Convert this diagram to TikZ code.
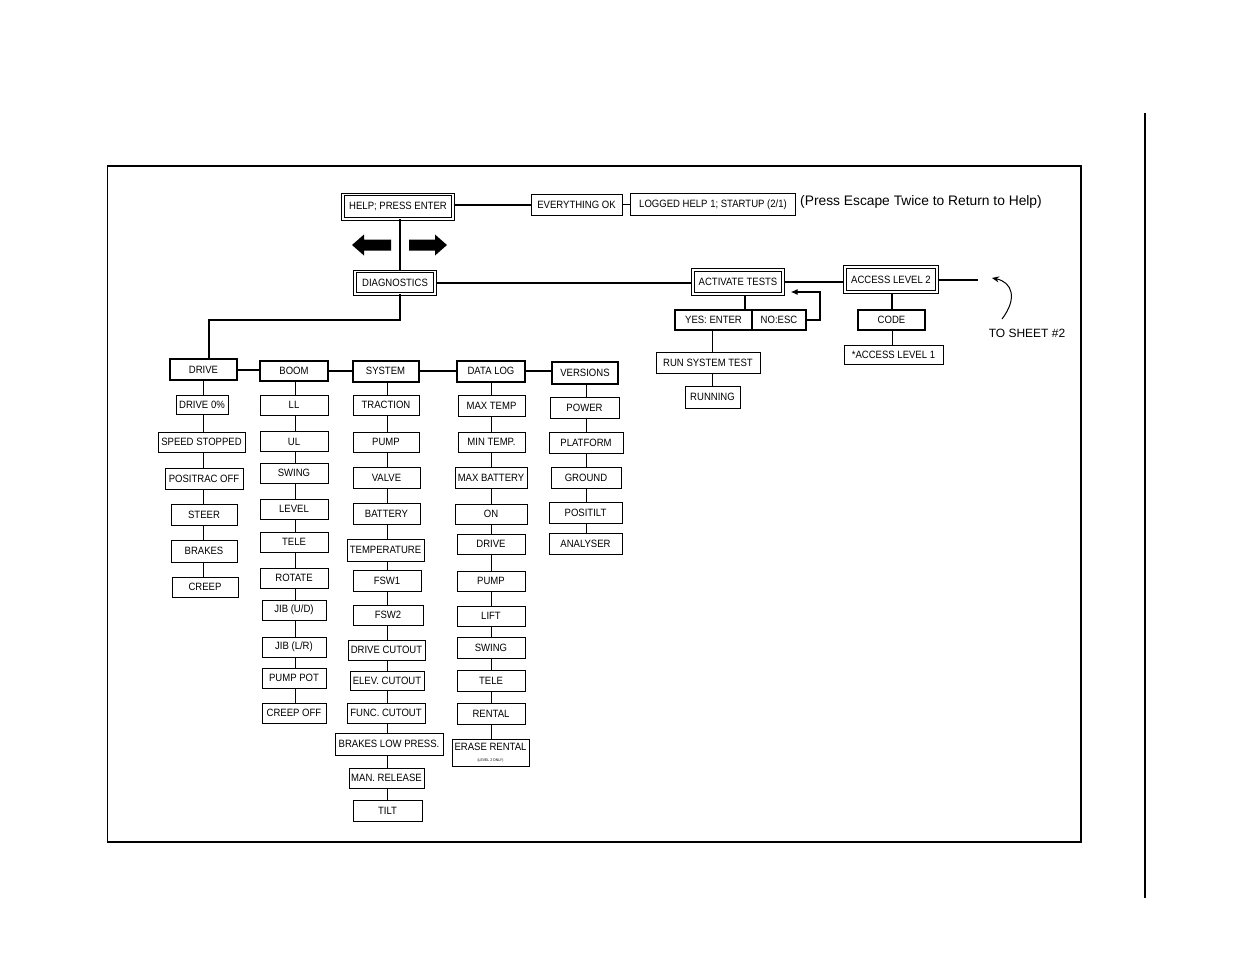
\documentclass[tikz,border=0pt]{standalone}
\usepackage{fontspec}
\setmainfont{Liberation Sans}
\newfontfamily\boxfam{Liberation Sans}[FakeStretch=0.9]
\usetikzlibrary{arrows.meta}
\newcommand\bxfont{\boxfam\fontsize{10.6}{12}\selectfont}
\begin{document}
\begin{tikzpicture}[x=1pt,y=-1pt,
  leaf/.style={draw, line width=0.8pt, inner sep=0pt, font=\bxfont, fill=white},
  cat/.style={leaf, line width=2pt},
  dbl/.style={draw, double, double distance=1.6pt, line width=1pt, inner sep=0pt, font=\bxfont},
  conn/.style={line width=0.8pt},
  mainln/.style={line width=2pt},
  fat/.style={fill=black, draw=none}]
\useasboundingbox (0,0) rectangle (1235,954);
% frame
\draw[line width=1.5pt] (107.5,166) rectangle (1081,842);
\draw[line width=1.5pt] (1145,113) -- (1145,898);

% top row
\node[dbl, minimum width=110.4, minimum height=24.4] (help) at (398,206.5) {HELP; PRESS ENTER};
\node[leaf, minimum width=91, minimum height=21] (ok) at (576.5,204.5) {EVERYTHING OK};
\node[leaf, line width=1.2pt, minimum width=165, minimum height=22] (logged) at (713,204.5) {LOGGED HELP 1; STARTUP (2/1)};
\node[anchor=west, inner sep=0pt, font=\fontsize{13.8}{16}\selectfont] (note) at (800,202) {(Press Escape Twice to Return to Help)};
\draw[mainln] (help.east |- ok) -- (ok.west);
\draw[conn] (ok.east) -- (logged.west);

\node[dbl, minimum width=80.4, minimum height=22.4] (diag) at (395,282.5) {DIAGNOSTICS};
\coordinate (k1) at (400,320);
\draw[mainln] (help.south -| k1) -- (diag.north -| k1);

% fat arrows
\fill[fat] (352,245) -- (364,234.5) -- (364,239.5) -- (391,239.5) -- (391,250.5) -- (364,250.5) -- (364,255.5) -- cycle;
\fill[fat] (447,245) -- (435,234.5) -- (435,239.5) -- (409,239.5) -- (409,250.5) -- (435,250.5) -- (435,255.5) -- cycle;

\node[dbl, minimum width=90.4, minimum height=24.4] (activate) at (738,282) {ACTIVATE TESTS};
\node[dbl, minimum width=92.4, minimum height=25.4] (access) at (891,279.5) {ACCESS LEVEL 2};
\draw[mainln] (diag.east) -- (diag.east -| activate.west);
\draw[mainln] (activate.east) -- (activate.east -| access.west);
\coordinate (k5) at (978,279.5);
\draw[mainln] (access.east) -- (k5);

\node[cat, minimum width=77, minimum height=20] (yes) at (713.5,320) {YES: ENTER};
\node[cat, minimum width=54, minimum height=20] (no) at (779,320) {NO:ESC};
\coordinate (k2) at (745,0);
\draw[mainln] (activate.south -| k2) -- (yes.north -| k2);
\coordinate (k3) at (820,292);
\draw[line width=1.1pt, -{Latex[length=7pt,width=6pt]}] (no.east) -| (k3) -- ([xshift=7pt]activate.east |- k3);

\node[leaf, minimum width=104, minimum height=21] (run) at (708,362.5) {RUN SYSTEM TEST};
\node[leaf, minimum width=55, minimum height=22] (running) at (712.5,397) {RUNNING};
\coordinate (k4) at (712.5,0);
\draw[conn] (yes.south -| k4) -- (run.north -| k4);
\draw[conn] (run.south -| k4) -- (running.north -| k4);

\node[cat, minimum width=67, minimum height=20] (code) at (891.5,320) {CODE};
\node[leaf, minimum width=99, minimum height=19] (al1) at (893.5,354.5) {*ACCESS LEVEL 1};
\coordinate (k6) at (892,0);
\draw[mainln] (access.south -| k6) -- (code.north -| k6);
\draw[conn] (code.south -| k6) -- (al1.north -| k6);

\node[inner sep=0pt, font=\fontsize{12}{14}\selectfont] (sheet) at (1027,333) {TO SHEET \#2};
\coordinate (t1) at (1002,319);
\coordinate (t2) at (992,278);
\draw[line width=1pt, -{Stealth[length=7pt,width=6pt]}] (t1) .. controls (1018,298) and (1012,282) .. (t2);

% categories
\node[cat, minimum width=67, minimum height=21] (drive) at (203.5,369.5) {DRIVE};
\node[cat, minimum width=68, minimum height=20] (boom) at (294,371) {BOOM};
\node[cat, minimum width=66, minimum height=21] (system) at (385.5,371) {SYSTEM};
\node[cat, minimum width=68, minimum height=21] (datalog) at (491,371) {DATA LOG};
\node[cat, minimum width=66, minimum height=22] (versions) at (585,372.5) {VERSIONS};
\draw[mainln] (diag.south -| k1) -- (k1) -| ([xshift=5.5pt]drive.north);
\foreach \a/\b in {drive/boom,boom/system,system/datalog,datalog/versions}
  \draw[mainln] (\a.east) -- (\a.east -| \b.west);

% DRIVE column
\node[leaf, minimum width=52, minimum height=19] (d1) at (202,404.5) {DRIVE 0\%};
\node[leaf, minimum width=87, minimum height=20] (d2) at (201.5,442) {SPEED STOPPED};
\node[leaf, minimum width=78, minimum height=21] (d3) at (204,478.5) {POSITRAC OFF};
\node[leaf, minimum width=66, minimum height=21] (d4) at (204,514.5) {STEER};
\node[leaf, minimum width=66, minimum height=22] (d5) at (204,551) {BRAKES};
\node[leaf, minimum width=66, minimum height=20] (d6) at (205,587) {CREEP};
\coordinate (cD) at (203,0);
\foreach \a/\b in {drive/d1,d1/d2,d2/d3,d3/d4,d4/d5,d5/d6}
  \draw[conn] (\a.south -| cD) -- (\b.north -| cD);

% BOOM column
\node[leaf, minimum width=68, minimum height=20] (b1) at (294,405) {LL};
\node[leaf, minimum width=68, minimum height=20] (b2) at (294,441.5) {UL};
\node[leaf, minimum width=68, minimum height=20] (b3) at (294,473) {SWING};
\node[leaf, minimum width=68, minimum height=20] (b4) at (294,509) {LEVEL};
\node[leaf, minimum width=68, minimum height=20] (b5) at (294,542) {TELE};
\node[leaf, minimum width=68, minimum height=20] (b6) at (294,578) {ROTATE};
\node[leaf, minimum width=64, minimum height=20] (b7) at (294,610) {JIB (U/D)};
\node[leaf, minimum width=64, minimum height=20] (b8) at (294,647) {JIB (L/R)};
\node[leaf, minimum width=64, minimum height=20] (b9) at (294,678) {PUMP POT};
\node[leaf, minimum width=64, minimum height=20] (b10) at (294,713) {CREEP OFF};
\coordinate (cB) at (295,0);
\foreach \a/\b in {boom/b1,b1/b2,b2/b3,b3/b4,b4/b5,b5/b6,b6/b7,b7/b8,b8/b9,b9/b10}
  \draw[conn] (\a.south -| cB) -- (\b.north -| cB);

% SYSTEM column
\node[leaf, minimum width=66, minimum height=20] (s1) at (386,405) {TRACTION};
\node[leaf, minimum width=66, minimum height=20] (s2) at (386,442) {PUMP};
\node[leaf, minimum width=67, minimum height=21] (s3) at (386.5,477.5) {VALVE};
\node[leaf, minimum width=67, minimum height=21] (s4) at (386.5,514) {BATTERY};
\node[leaf, minimum width=77, minimum height=22] (s5) at (385.5,550) {TEMPERATURE};
\node[leaf, minimum width=68, minimum height=21] (s6) at (387,580.5) {FSW1};
\node[leaf, minimum width=70, minimum height=20] (s7) at (388,615) {FSW2};
\node[leaf, minimum width=77, minimum height=20] (s8) at (386.5,650) {DRIVE CUTOUT};
\node[leaf, minimum width=74, minimum height=19] (s9) at (387,681) {ELEV. CUTOUT};
\node[leaf, minimum width=78, minimum height=20] (s10) at (386,713) {FUNC. CUTOUT};
\node[leaf, minimum width=108, minimum height=22] (s11) at (389,744) {BRAKES LOW PRESS.};
\node[leaf, minimum width=75, minimum height=20] (s12) at (386.5,778) {MAN. RELEASE};
\node[leaf, minimum width=69, minimum height=21] (s13) at (387.5,810.5) {TILT};
\coordinate (cS) at (387,0);
\foreach \a/\b in {system/s1,s1/s2,s2/s3,s3/s4,s4/s5,s5/s6,s6/s7,s7/s8,s8/s9,s9/s10,s10/s11,s11/s12,s12/s13}
  \draw[conn] (\a.south -| cS) -- (\b.north -| cS);

% DATA LOG column
\node[leaf, minimum width=67, minimum height=21] (l1) at (491.5,405.5) {MAX TEMP};
\node[leaf, minimum width=67, minimum height=20] (l2) at (491.5,442) {MIN TEMP.};
\node[leaf, minimum width=72, minimum height=21] (l3) at (491,477.5) {MAX BATTERY};
\node[leaf, minimum width=72, minimum height=20] (l4) at (491,514) {ON};
\node[leaf, minimum width=68, minimum height=20] (l5) at (491,544) {DRIVE};
\node[leaf, minimum width=68, minimum height=20] (l6) at (491,581) {PUMP};
\node[leaf, minimum width=68, minimum height=20] (l7) at (491,616) {LIFT};
\node[leaf, minimum width=68, minimum height=21] (l8) at (491,647.5) {SWING};
\node[leaf, minimum width=68, minimum height=21] (l9) at (491,680.5) {TELE};
\node[leaf, minimum width=68, minimum height=21] (l10) at (491,713.5) {RENTAL};
\node[leaf, minimum width=77, minimum height=27, align=center] (l11) at (490.5,752.5)
  {ERASE RENTAL\\[-1.5pt]{\fontsize{3.8}{4}\selectfont (LEVEL 2 ONLY)}};
\coordinate (cL) at (491,0);
\foreach \a/\b in {datalog/l1,l1/l2,l2/l3,l3/l4,l4/l5,l5/l6,l6/l7,l7/l8,l8/l9,l9/l10,l10/l11}
  \draw[conn] (\a.south -| cL) -- (\b.north -| cL);

% VERSIONS column
\node[leaf, minimum width=69, minimum height=21] (v1) at (584.5,407.5) {POWER};
\node[leaf, minimum width=74, minimum height=21] (v2) at (586,442.5) {PLATFORM};
\node[leaf, minimum width=70, minimum height=21] (v3) at (586,477.5) {GROUND};
\node[leaf, minimum width=73, minimum height=21] (v4) at (585.5,512.5) {POSITILT};
\node[leaf, minimum width=73, minimum height=21] (v5) at (585.5,543.5) {ANALYSER};
\coordinate (cV) at (586,0);
\foreach \a/\b in {versions/v1,v1/v2,v2/v3,v3/v4,v4/v5}
  \draw[conn] (\a.south -| cV) -- (\b.north -| cV);
\end{tikzpicture}
\end{document}
